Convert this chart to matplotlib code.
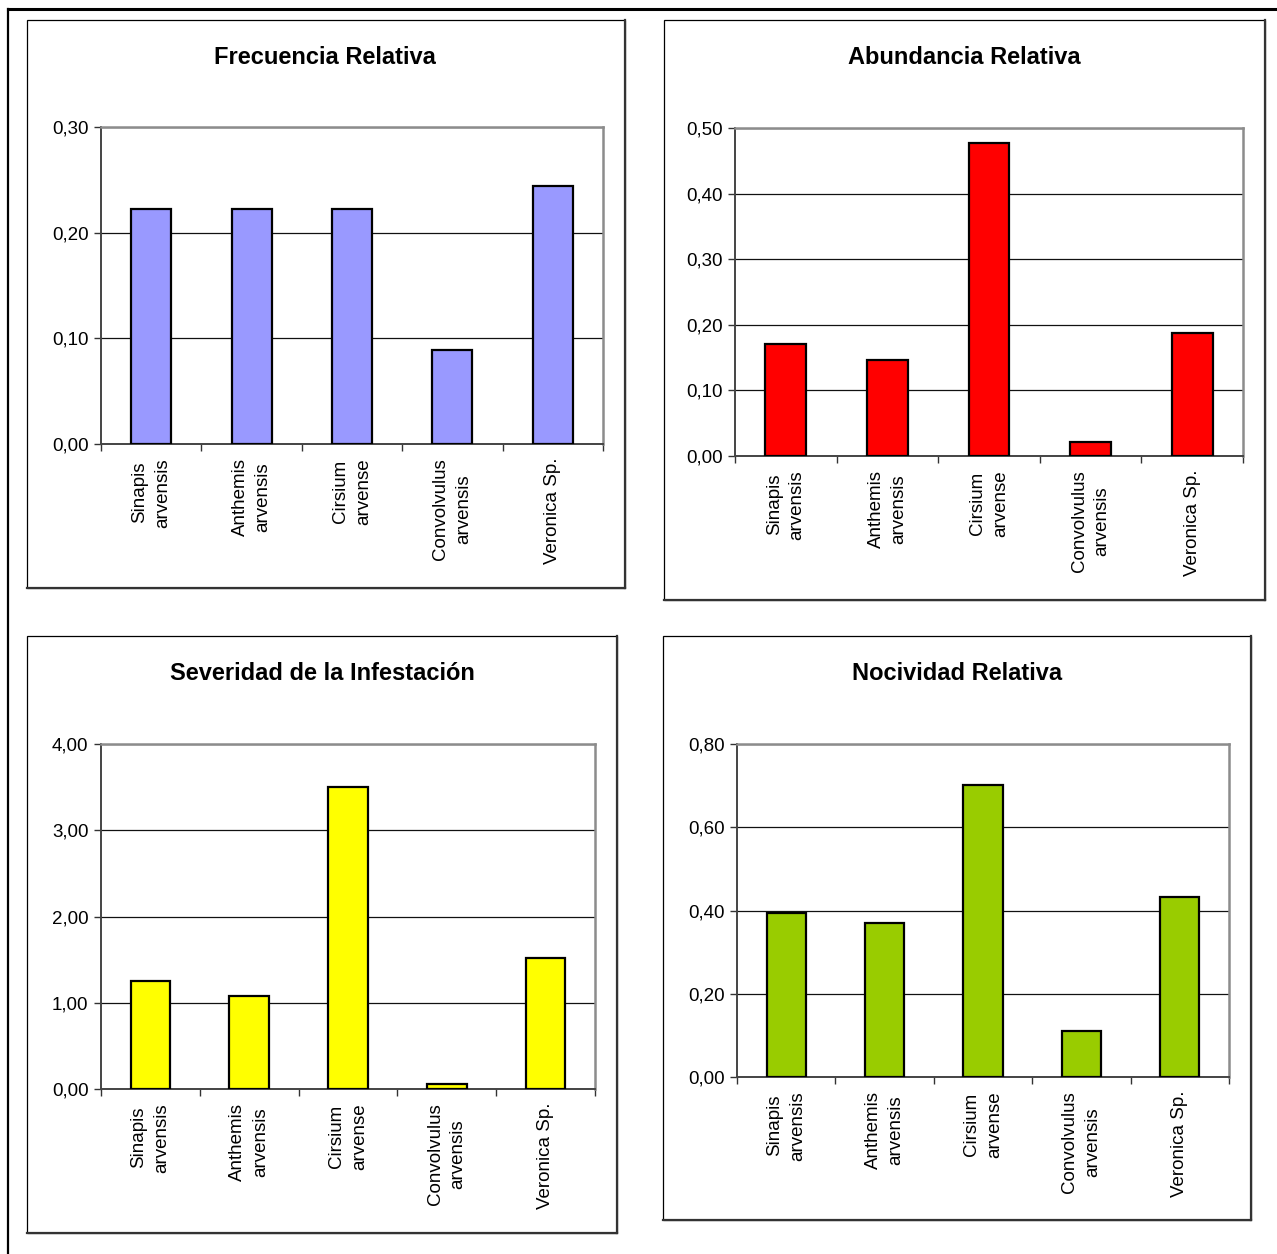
import matplotlib
matplotlib.use("Agg")
import matplotlib.pyplot as plt
from matplotlib.patches import Rectangle
from matplotlib.lines import Line2D
from matplotlib.ticker import FuncFormatter

plt.rcParams['font.family'] = ['Liberation Sans', 'DejaVu Sans']

categories = ["Sinapis\narvensis", "Anthemis\narvensis", "Cirsium\narvense",
              "Convolvulus\narvensis", "Veronica Sp."]

frecuencia = [0.222, 0.222, 0.222, 0.089, 0.244]
abundancia = [0.170, 0.147, 0.477, 0.021, 0.188]
severidad = [1.25, 1.08, 3.50, 0.06, 1.52]
nocividad = [0.394, 0.370, 0.701, 0.111, 0.432]

titles = ["Frecuencia Relativa", "Abundancia Relativa",
          "Severidad de la Infestación", "Nocividad Relativa"]
colors = ["#9999FF", "#FF0000", "#FFFF00", "#99CC00"]
series = [frecuencia, abundancia, severidad, nocividad]
yticks = [[0, 0.1, 0.2, 0.3], [0, 0.1, 0.2, 0.3, 0.4, 0.5],
          [0, 1, 2, 3, 4], [0, 0.2, 0.4, 0.6, 0.8]]

W, H = 1277, 1254
fig = plt.figure(figsize=(W / 100, H / 100), dpi=100)

# layout in pixels: box (x0,y0,x1,y1), plot (x0,y0,x1,y1), title (x,y)
boxes = [(27, 20, 625, 588), (664, 20, 1265, 600),
         (27, 636, 617, 1233), (663, 636, 1251, 1220)]
plots = [(101, 127, 603, 444), (735, 128, 1243, 456),
         (101, 744, 595, 1089), (737, 744, 1229, 1077)]
title_pos = [(325, 57), (964, 58), (322, 674), (957, 674)]

def fx(x):
    return x / W

def fy(y):
    return 1 - y / H

# outer frame (top and left lines)
fig.add_artist(Line2D([fx(8), 1.0], [fy(9), fy(9)], color='black', lw=2.2))
fig.add_artist(Line2D([fx(8), fx(8)], [fy(9), 0.0], color='black', lw=1.6))

for i in range(4):
    bx0, by0, bx1, by1 = boxes[i]
    # panel box with shadowed right/bottom edges
    fig.add_artist(Rectangle((fx(bx0), fy(by1)), fx(bx1 - bx0), (by1 - by0) / H,
                             fill=False, edgecolor='black', lw=0.9))
    fig.add_artist(Line2D([fx(bx1), fx(bx1)], [fy(by0), fy(by1)], color='#333333', lw=1.6))
    fig.add_artist(Line2D([fx(bx0), fx(bx1)], [fy(by1), fy(by1)], color='#333333', lw=1.6))

    px0, py0, px1, py1 = plots[i]
    ax = fig.add_axes([fx(px0), fy(py1), fx(px1 - px0), (py1 - py0) / H])
    xs = list(range(len(categories)))
    ax.bar(xs, series[i], width=0.4, color=colors[i], edgecolor='black',
           linewidth=1.6, zorder=3)
    ax.set_xlim(-0.5, len(categories) - 0.5)
    ax.set_ylim(yticks[i][0], yticks[i][-1])
    ax.set_yticks(yticks[i])
    ax.yaxis.set_major_formatter(FuncFormatter(lambda v, p: f"{v:.2f}".replace('.', ',')))
    ax.grid(axis='y', color='#111111', lw=0.9, zorder=1)
    ax.set_axisbelow(True)

    ax.set_xticks([k - 0.5 for k in range(len(categories) + 1)])
    ax.set_xticklabels([])
    ax.set_xticks(xs, minor=True)
    ax.set_xticklabels(categories, minor=True, rotation=90, ha='center', va='top',
                       multialignment='center', fontsize=13.5, linespacing=1.45)
    ax.tick_params(axis='x', which='minor', length=0, pad=10)
    ax.tick_params(axis='x', which='major', length=5, width=1, color='#333333', direction='out')
    ax.tick_params(axis='y', length=5, width=1, color='#333333', direction='out',
                   labelsize=13.5, pad=4)

    ax.spines['top'].set_color('#8c8c8c')
    ax.spines['right'].set_color('#8c8c8c')
    ax.spines['top'].set_linewidth(1.8)
    ax.spines['right'].set_linewidth(1.8)
    ax.spines['left'].set_color('#444444')
    ax.spines['left'].set_linewidth(1.4)
    ax.spines['bottom'].set_color('#444444')
    ax.spines['bottom'].set_linewidth(1.4)

    tx, ty = title_pos[i]
    fig.text(fx(tx), fy(ty), titles[i], ha='center', va='center',
             fontsize=17, fontweight='bold')

fig.savefig("out.png", dpi=100, facecolor='white')
